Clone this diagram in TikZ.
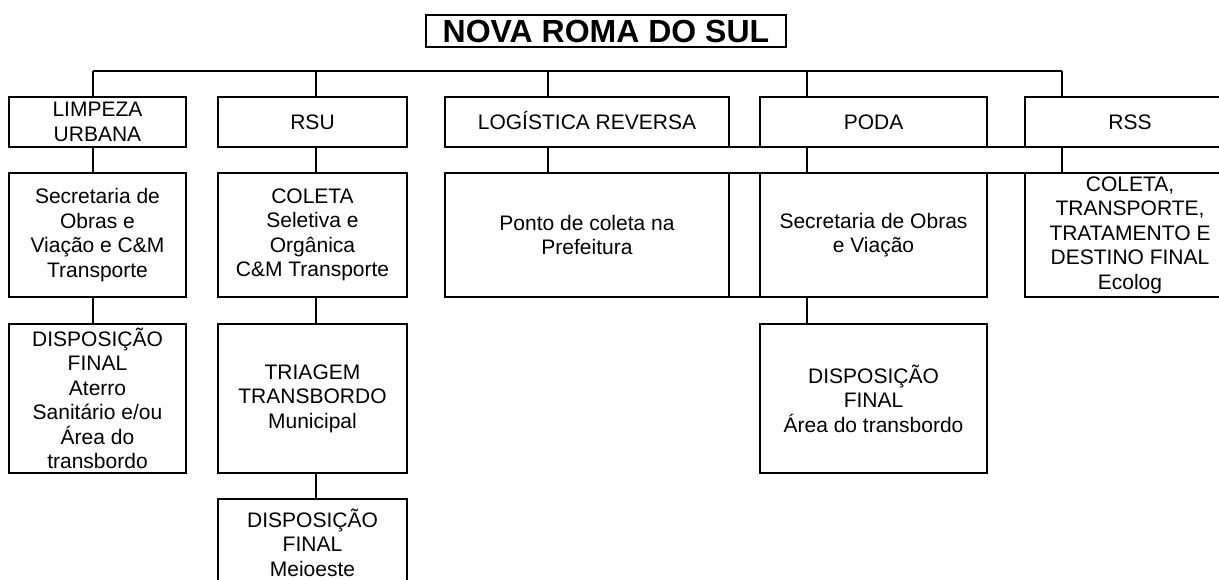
\documentclass[tikz,border=0pt]{standalone}
\usepackage{fontspec}
\setmainfont{Liberation Sans}
\begin{document}
\begin{tikzpicture}[x=1pt,y=-1pt,
  box/.style={draw, line width=1.3pt, align=center, inner sep=0pt, outer sep=0pt,
    font=\fontsize{21}{24.5}\selectfont},
  oneline/.style={text height=15.1pt, text depth=0pt},
  titlebox/.style={draw, line width=1.3pt, inner sep=0pt, outer sep=0pt,
    minimum width=360, minimum height=32, text height=23pt, text depth=0pt,
    font=\fontsize{32}{36}\selectfont\bfseries},
  conn/.style={line width=1.3pt}]
\useasboundingbox (0,0) rectangle (1219,579);
\clip (0,0) rectangle (1219,579);

\node[titlebox] (t) at (606,31) {NOVA ROMA DO SUL};

% level 1
\node[box, minimum width=177, minimum height=50] (l1a) at (97.5,122) {LIMPEZA\\URBANA};
\node[box, oneline, minimum width=189, minimum height=50] (l1b) at (312.5,122) {RSU};
\node[box, oneline, minimum width=284, minimum height=50] (l1c) at (587,122) {LOGÍSTICA REVERSA};
\node[box, oneline, minimum width=227, minimum height=50] (l1d) at (873.5,122) {PODA};
\node[box, oneline, minimum width=210, minimum height=50] (l1e) at (1130,122) {RSS};

% level 2
\node[box, minimum width=177, minimum height=124] (l2a) at (97.5,235) {Secretaria de\\Obras e\\Viação e C\&M\\Transporte};
\node[box, minimum width=189, minimum height=124] (l2b) at (312.5,235) {COLETA\\Seletiva e\\Orgânica\\C\&M Transporte};
\node[box, minimum width=284, minimum height=124] (l2c) at (587,235) {Ponto de coleta na\\Prefeitura};
\node[box, minimum width=227, minimum height=124] (l2d) at (873.5,235) {Secretaria de Obras\\e Viação};
\node[box, minimum width=210, minimum height=124] (l2e) at (1130,235) {COLETA,\\TRANSPORTE,\\TRATAMENTO E\\DESTINO FINAL\\Ecolog};

% level 3
\node[box, minimum width=177, minimum height=149] (l3a) at (97.5,398.5) {DISPOSIÇÃO\\FINAL\\Aterro\\Sanitário e/ou\\Área do\\transbordo};
\node[box, minimum width=189, minimum height=149] (l3b) at (312.5,398.5) {TRIAGEM\\TRANSBORDO\\Municipal};
\node[box, minimum width=227, minimum height=149] (l3d) at (873.5,398.5) {DISPOSIÇÃO\\FINAL\\Área do transbordo};

% level 4
\node[box, minimum width=189, minimum height=87] (l4b) at (312.5,542.5) {DISPOSIÇÃO\\FINAL\\Meioeste};

% bus
\coordinate (bA) at (93,71);
\coordinate (bB) at (316,71);
\coordinate (bC) at (548,71);
\coordinate (bD) at (807,71);
\coordinate (bE) at (1062,71);
\draw[conn] (bA) -- (bE);
\draw[conn] (bA) -- (bA |- l1a.north);
\draw[conn] (bB) -- (bB |- l1b.north);
\draw[conn] (bC) -- (bC |- l1c.north);
\draw[conn] (bD) -- (bD |- l1d.north);
\draw[conn] (bE) -- (bE |- l1e.north);

% level 1 -> level 2
\draw[conn] (bA |- l1a.south) -- (bA |- l2a.north);
\draw[conn] (bB |- l1b.south) -- (bB |- l2b.north);
\draw[conn] (bC |- l1c.south) -- (bC |- l2c.north);
\draw[conn] (bD |- l1d.south) -- (bD |- l2d.north);
\draw[conn] (bE |- l1e.south) -- (bE |- l2e.north);

% bridging lines
\draw[conn] (l1c.south east) -- (l1d.south west);
\draw[conn] (l1d.south east) -- (l1e.south west);
\draw[conn] (l2c.north east) -- (l2d.north west);
\draw[conn] (l2d.north east) -- (l2e.north west);
\draw[conn] (l2c.south east) -- (l2d.south west);

% level 2 -> level 3
\draw[conn] (bA |- l2a.south) -- (bA |- l3a.north);
\draw[conn] (bB |- l2b.south) -- (bB |- l3b.north);
\draw[conn] (bD |- l2d.south) -- (bD |- l3d.north);

% level 3 -> level 4
\draw[conn] (bB |- l3b.south) -- (bB |- l4b.north);
\end{tikzpicture}
\end{document}
